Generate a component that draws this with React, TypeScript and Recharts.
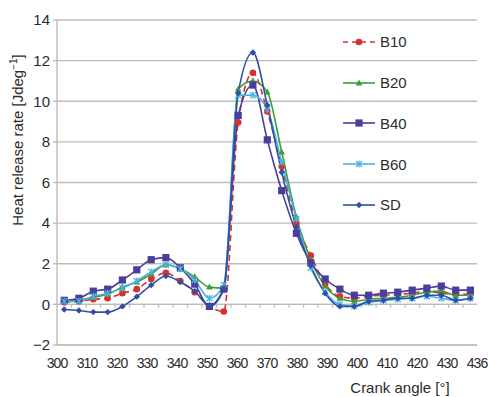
import React from 'react';
import { LineChart, Line, XAxis, YAxis, CartesianGrid, Legend, ReferenceLine } from 'recharts';

// Crank angle of each sample (deg)
const crankAngles = [302.4, 307.3, 312.1, 316.9, 321.8, 326.6, 331.4, 336.3, 341.1, 345.9, 350.8, 355.6, 360.4, 365.3, 370.1, 374.9, 379.8, 384.6, 389.4, 394.3, 399.1, 403.9, 408.8, 413.6, 418.4, 423.3, 428.1, 432.9, 437.8];

// Heat release rate [J/deg]
const b10 = [0.1, 0.15, 0.25, 0.3, 0.55, 0.75, 1.25, 1.55, 1.15, 0.6, -0.1, -0.35, 8.95, 11.4, 9.5, 6.8, 4.0, 2.4, 1.0, 0.4, 0.3, 0.4, 0.45, 0.5, 0.55, 0.65, 0.55, 0.5, 0.5];
const b20 = [0.15, 0.2, 0.35, 0.5, 0.85, 1.1, 1.5, 1.95, 1.75, 1.35, 0.85, 0.8, 10.6, 11.0, 10.45, 7.5, 4.3, 2.2, 0.9, 0.3, 0.15, 0.25, 0.3, 0.35, 0.45, 0.6, 0.65, 0.45, 0.45];
const b40 = [0.2, 0.3, 0.65, 0.75, 1.2, 1.7, 2.2, 2.3, 1.8, 1.0, -0.1, 0.75, 9.3, 10.8, 8.1, 5.6, 3.5, 2.05, 1.25, 0.75, 0.45, 0.45, 0.55, 0.6, 0.7, 0.8, 0.9, 0.7, 0.7];
const b60 = [0.15, 0.15, 0.4, 0.55, 0.8, 1.15, 1.6, 1.95, 1.75, 1.2, 0.3, 0.95, 10.3, 10.3, 9.6, 7.0, 4.2, 1.8, 0.6, 0.0, -0.1, 0.1, 0.2, 0.25, 0.3, 0.4, 0.3, 0.2, 0.3];
const sd = [-0.25, -0.3, -0.38, -0.38, -0.1, 0.38, 0.95, 1.4, 1.1, 0.65, -0.05, 0.8, 10.4, 12.4, 9.8, 6.5, 3.8, 1.9, 0.55, -0.1, -0.1, 0.15, 0.2, 0.3, 0.3, 0.45, 0.45, 0.2, 0.3];

const xTicks = [300, 310, 320, 330, 340, 350, 360, 370, 380, 390, 400, 410, 420, 430, 440];
const xTickLabels = ['300', '310', '320', '330', '340', '350', '360', '370', '380', '390', '400', '410', '420', '430', '436'];
const yTicks = [-2, 0, 2, 4, 6, 8, 10, 12, 14];

const data = crankAngles.map((a, i) => ({ angle: a, B10: b10[i], B20: b20[i], B40: b40[i], B60: b60[i], SD: sd[i] }));

// category boundaries (small tick marks on the zero line)
const zeroTicks = crankAngles.slice(0, -1).map((a, i) => (a + crankAngles[i + 1]) / 2);

const FONT = '"Liberation Sans", Arial, Helvetica, sans-serif';
const TEXT = '#2b2b2b';
const GRID = '#bcbcbc';

const styles: Record<string, { color: string; kind: string; dash?: string }> = {
  B10: { color: '#d8302c', kind: 'circle', dash: '6 4' },
  B20: { color: '#3a9c3c', kind: 'triangle' },
  B40: { color: '#4a3d9c', kind: 'square' },
  B60: { color: '#4cb2e0', kind: 'star' },
  SD: { color: '#2f4ea8', kind: 'diamond' },
};

function Marker({ kind, cx, cy, color }: { kind: string; cx: number; cy: number; color: string }) {
  switch (kind) {
    case 'circle':
      return <circle cx={cx} cy={cy} r={3.3} fill={color} />;
    case 'triangle':
      return <polygon points={`${cx},${cy - 3.6} ${cx + 3.3},${cy + 2.4} ${cx - 3.3},${cy + 2.4}`} fill={color} />;
    case 'square':
      return <rect x={cx - 3.6} y={cy - 3.6} width={7.2} height={7.2} fill={color} />;
    case 'star':
      return (
        <g stroke={color} strokeWidth={1.3}>
          <line x1={cx - 3} y1={cy - 3} x2={cx + 3} y2={cy + 3} />
          <line x1={cx - 3} y1={cy + 3} x2={cx + 3} y2={cy - 3} />
          <line x1={cx} y1={cy - 3.5} x2={cx} y2={cy + 3.5} />
        </g>
      );
    default:
      return <polygon points={`${cx},${cy - 3.2} ${cx + 3.2},${cy} ${cx},${cy + 3.2} ${cx - 3.2},${cy}`} fill={color} />;
  }
}

const makeDot = (key: string) => (p: any) => {
  const s = styles[key];
  if (p.cx == null || p.cy == null) return <g key={`${key}-${p.index}`} />;
  return (
    <g key={`${key}-${p.index}`}>
      <Marker kind={s.kind} cx={p.cx} cy={p.cy} color={s.color} />
    </g>
  );
};

const XTick = (props: any) => {
  const { x, y, payload } = props;
  const idx = xTicks.indexOf(payload.value);
  return (
    <text x={x} y={y} dy={10.5} textAnchor="middle" fontFamily={FONT} fontSize={14} fill={TEXT} style={{ letterSpacing: '-1px' }}>
      {idx >= 0 ? xTickLabels[idx] : payload.value}
    </text>
  );
};

const LegendContent = (props: any) => {
  const payload = props.payload || [];
  return (
    <div style={{ fontFamily: FONT }}>
      {payload.map((entry: any) => {
        const key = entry.dataKey || entry.value;
        const s = styles[key];
        return (
          <div key={key} style={{ height: 40.7, display: 'flex', alignItems: 'center' }}>
            <svg width={36} height={12} style={{ display: 'block' }}>
              <line x1={1} y1={6} x2={33} y2={6} stroke={s.color} strokeWidth={1.6} strokeDasharray={s.dash ? '5 4' : undefined} />
              <Marker kind={s.kind} cx={17} cy={6} color={s.color} />
            </svg>
            <span style={{ fontSize: 15, color: TEXT, marginLeft: 2 }}>{entry.value}</span>
          </div>
        );
      })}
    </div>
  );
};

const series = ['B10', 'B20', 'B40', 'B60', 'SD'];

export default function App() {
  return (
    <div style={{ position: 'absolute', left: 0, top: 0, width: 488, height: 397, background: '#fff', fontFamily: FONT }}>
      <LineChart width={488} height={397} data={data} margin={{ top: 20, right: 11, bottom: 22, left: 0 }}>
        <CartesianGrid horizontal vertical={false} stroke={GRID} strokeWidth={1.4} />
        <XAxis
          dataKey="angle"
          type="number"
          domain={[300, 440]}
          ticks={xTicks}
          interval={0}
          allowDataOverflow
          height={30}
          axisLine={{ stroke: GRID, strokeWidth: 1.4 }}
          tickLine={false}
          tickSize={6}
          tickMargin={6}
          tick={<XTick />}
        />
        <YAxis
          domain={[-2, 14]}
          ticks={yTicks}
          interval={0}
          width={57}
          axisLine={{ stroke: GRID, strokeWidth: 1.4 }}
          tickLine={{ stroke: GRID, strokeWidth: 1.4 }}
          tickSize={4}
          tickMargin={3}
          tick={{ fontFamily: FONT, fontSize: 15, fill: TEXT }}
          tickFormatter={(v: number) => (v < 0 ? `\u2212${Math.abs(v)}` : `${v}`)}
        />
        <ReferenceLine y={0} stroke={GRID} strokeWidth={1.4} />
        {zeroTicks.map((m) => (
          <ReferenceLine key={`zt-${m}`} segment={[{ x: m, y: 0 }, { x: m, y: -0.17 }]} stroke={GRID} strokeWidth={1.2} />
        ))}
        <Legend
          layout="vertical"
          align="center"
          verticalAlign="middle"
          content={<LegendContent />}
          wrapperStyle={{ left: 342, top: 21.6, width: 120, height: 210 }}
        />
        {series.map((k) => (
          <Line
            key={k}
            dataKey={k}
            name={k}
            type="monotone"
            stroke={styles[k].color}
            strokeWidth={1.6}
            strokeDasharray={styles[k].dash}
            dot={makeDot(k)}
            activeDot={false}
            isAnimationActive={false}
          />
        ))}
      </LineChart>
      <div
        style={{
          position: 'absolute', left: 18 - 120, top: 140 - 10, width: 240, height: 20, lineHeight: '20px',
          textAlign: 'center', transform: 'rotate(-90deg)', fontSize: 15, color: TEXT, whiteSpace: 'nowrap',
        }}
      >
        Heat release rate [Jdeg<sup style={{ fontSize: 10, verticalAlign: 'super', lineHeight: 0 }}>−1</sup>]
      </div>
      <div
        style={{
          position: 'absolute', left: 330, top: 378, width: 140, height: 20, lineHeight: '20px',
          textAlign: 'center', fontSize: 15, color: TEXT, whiteSpace: 'nowrap',
        }}
      >
        Crank angle [°]
      </div>
    </div>
  );
}
